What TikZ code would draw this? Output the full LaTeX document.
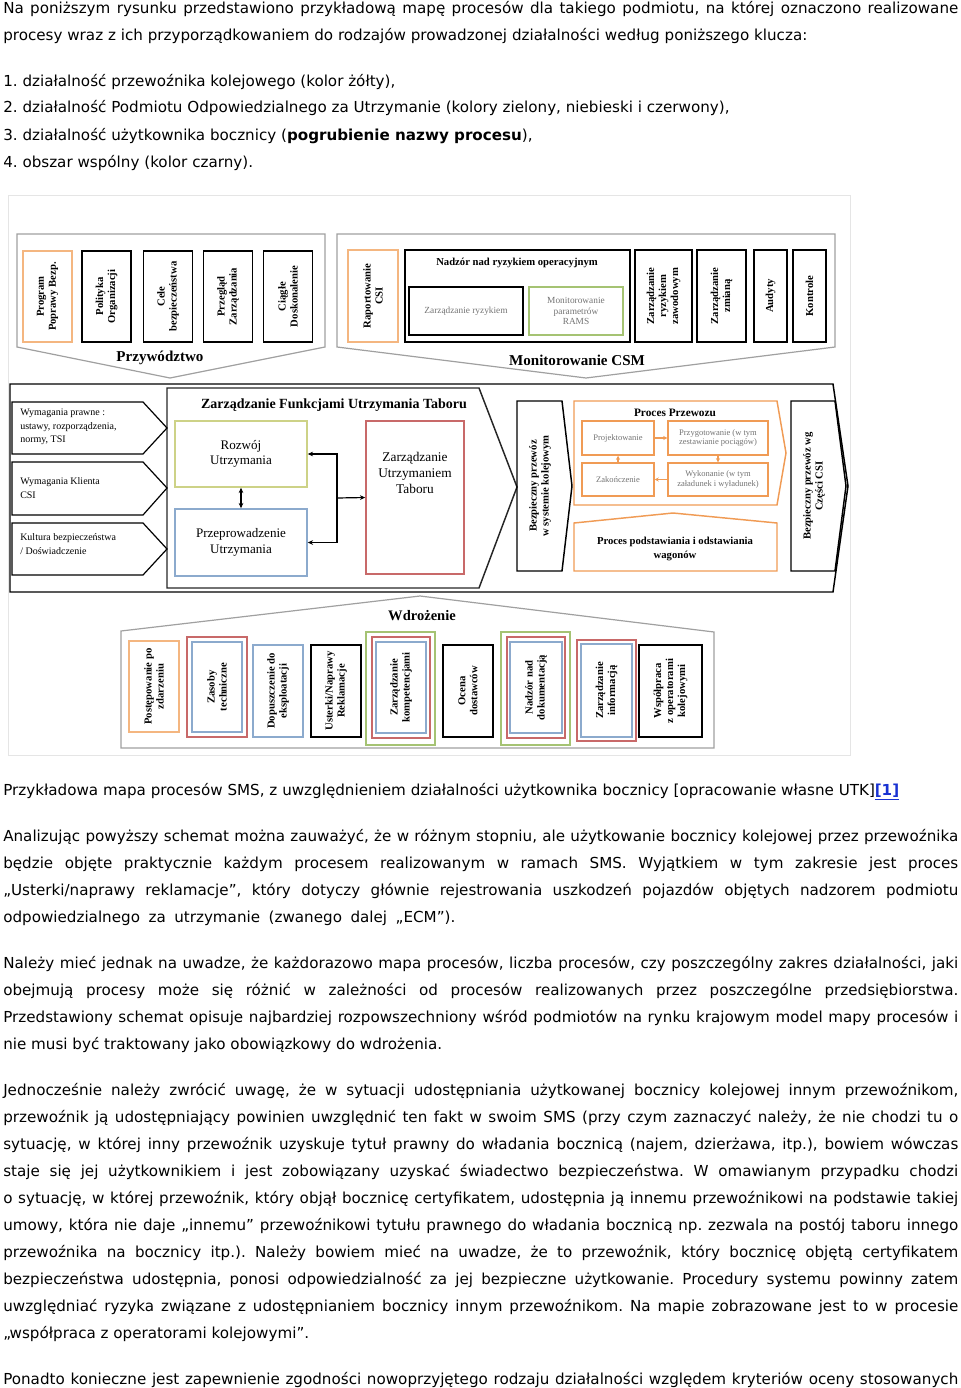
\documentclass[tikz,border=0pt]{standalone}
\usepackage{fontspec}
\setmainfont{DejaVu Sans}
\newfontfamily\dia{Liberation Serif}
\usetikzlibrary{arrows.meta}
\definecolor{panelgray}{RGB}{160,160,160}
\definecolor{orangeA}{RGB}{244,182,128}
\definecolor{orangeB}{RGB}{240,155,85}
\definecolor{redL}{RGB}{200,105,105}
\definecolor{blueL}{RGB}{140,170,205}
\definecolor{greenL}{RGB}{165,195,115}
\definecolor{oliveL}{RGB}{205,210,135}
\definecolor{textgray}{RGB}{115,115,115}
\definecolor{linkblue}{RGB}{25,50,210}
\frenchspacing
\newcommand\jline[1]{\hbox to \hsize{#1}}
\newcommand\fline[1]{\hbox{#1}}
\newcommand\paraset{\hsize=716.25pt\baselineskip=20.25pt\lineskiplimit=-\maxdimen}
\begin{document}
\begin{tikzpicture}[x=0.75pt,y=-0.75pt,
  para/.style={anchor=base west,inner sep=0pt,font=\fontsize{11.36pt}{20.25pt}\selectfont},
  panel/.style={draw=panelgray,line width=0.9pt},
  hb/.style 2 args={draw,line width=1.1pt,minimum width=#1*0.75pt,minimum height=#2*0.75pt,inner sep=0pt,align=center},
  rb/.style 2 args={draw,line width=1.1pt,rotate=90,minimum width=#2*0.75pt,minimum height=#1*0.75pt,inner sep=0pt,align=center,font=\dia\fontsize{8pt}{9pt}\selectfont\bfseries},
  ttl/.style={inner sep=0pt,font=\dia\fontsize{11.3pt}{13pt}\selectfont\bfseries},
  lbl/.style={inner sep=0pt,align=center,font=\dia\fontsize{9.8pt}{11.5pt}\selectfont},
  req/.style={anchor=west,inner sep=0pt,align=left,font=\dia\fontsize{7.5pt}{10pt}\selectfont},
  small/.style={text=textgray,font=\dia\fontsize{6.4pt}{7pt}\selectfont},
  arr/.style={-{Stealth[length=4pt,width=3.5pt]},line width=0.9pt},
  darr/.style={{Stealth[length=4pt,width=3.5pt]}-{Stealth[length=4pt,width=3.5pt]},line width=0.9pt},
  oarr/.style={-{Stealth[length=3pt,width=3pt]},draw=orangeB,line width=1pt},
]
\useasboundingbox (0,0) rectangle (960,1388);

% text above the map
\node[para] (intro) at (3,14) {\vtop{\paraset
  \jline{Na poniższym rysunku przedstawiono przykładową mapę procesów dla takiego podmiotu, na której oznaczono realizowane}
  \fline{procesy wraz z ich przyporządkowaniem do rodzajów prowadzonej działalności według poniższego klucza:}}};
\node[para] (key) at (3,86) {\vtop{\paraset
  \fline{1. działalność przewoźnika kolejowego (kolor żółty),}
  \fline{2. działalność Podmiotu Odpowiedzialnego za Utrzymanie (kolory zielony, niebieski i czerwony),}
  \fline{3. działalność użytkownika bocznicy (\textbf{pogrubienie nazwy procesu}),}
  \fline{4. obszar wspólny (kolor czarny).}}};

% frame of the map
\draw[gray!20] (8,195) rectangle (850,755);

% Przywodztwo
\draw[panel] (17,234) -- (325,234) -- (325,347) -- (170,378) -- (17,347) -- cycle;
\node[ttl] (przyw) at (160,358) {Przywództwo};
\node[rb={49}{91},draw=orangeA] (program) at (47.5,296.5) {Program\\Poprawy Bezp.};
\node[rb={49}{91}] (polityka) at (106.5,296.5) {Polityka\\Organizacji};
\node[rb={49}{91}] (cele) at (168,296.5) {Cele\\bezpieczeństwa};
\node[rb={49}{91}] (przeglad) at (228,296.5) {Przegląd\\Zarządzania};
\node[rb={49}{91}] (ciagle) at (288,296.5) {Ciągłe\\Doskonalenie};

% Monitorowanie CSM
\draw[panel] (337,234) -- (835,234) -- (835,347) -- (586,378) -- (337,347) -- cycle;
\node[ttl] (monit) at (577,360) {Monitorowanie CSM};
\node[rb={50}{92},draw=orangeA] (raport) at (373,296) {Raportowanie\\CSI};
\node[hb={225}{92}] (nadzor) at (517.5,296) {};
\node[inner sep=0pt,font=\dia\fontsize{8pt}{9pt}\selectfont\bfseries] (nadzorT) at (517,263) {Nadzór nad ryzykiem operacyjnym};
\node[hb={114}{48},small,font=\dia\fontsize{7pt}{8pt}\selectfont] (zrisk) at (466,311) {Zarządzanie ryzykiem};
\node[hb={94}{48},small,font=\dia\fontsize{7pt}{8pt}\selectfont,draw=greenL] (rams) at (576,311) {Monitorowanie\\parametrów\\RAMS};
\node[rb={57}{92}] (zawod) at (663.5,296) {Zarządzanie\\ryzykiem\\zawodowym};
\node[rb={49}{92}] (zmiana) at (721.5,296) {Zarządzanie\\zmianą};
\node[rb={33}{92}] (audyty) at (770.5,296) {Audyty};
\node[rb={33}{92}] (kontrole) at (809.5,296) {Kontrole};

% srodkowy pas
\draw[line width=1.1pt] (10,384) -- (833,384) -- (848,486) -- (833,592) -- (10,592) -- cycle;
\draw[line width=1.1pt,black!85] (167,388) -- (479,388) -- (517,487) -- (479,588) -- (167,588) -- cycle;
\node[inner sep=0pt,font=\dia\fontsize{10.5pt}{12pt}\selectfont\bfseries] (zfTitle) at (334,405) {Zarządzanie Funkcjami Utrzymania Taboru};
\draw[line width=0.9pt] (12,402) -- (143,402) -- (167,428) -- (143,454) -- (12,454) -- cycle;
\draw[line width=0.9pt] (12,462) -- (143,462) -- (167,488) -- (143,515) -- (12,515) -- cycle;
\draw[line width=0.9pt] (12,523) -- (143,523) -- (167,549) -- (143,575) -- (12,575) -- cycle;
\node[req] (req1) at (20,427) {Wymagania prawne :\\ustawy, rozporządzenia,\\normy, TSI};
\node[req] (req2) at (20,488) {Wymagania Klienta\\CSI};
\node[req] (req3) at (20,544) {Kultura bezpieczeństwa\\/ Doświadczenie};
\node[hb={132}{66},draw=oliveL,lbl] (rozwoj) at (241,454) {Rozwój\\Utrzymania};
\node[hb={132}{67},draw=blueL,lbl] (przep) at (241,542.5) {Przeprowadzenie\\Utrzymania};
\node[hb={98}{153},draw=redL] (zut) at (415,497.5) {};
\node[lbl,font=\dia\fontsize{10pt}{12pt}\selectfont] (zutT) at (415,473) {Zarządzanie\\Utrzymaniem\\Taboru};
\coordinate (fork) at (337,498);
\draw[darr] (rozwoj.south) -- (przep.north);
\draw[darr] (rozwoj.east) -| (fork) |- (przep.east);
\draw[arr] (fork) -- (zut.west);
\draw[line width=1.1pt] (517,401) -- (562,401) -- (572,486) -- (562,571) -- (517,571) -- cycle;
\node[rotate=90,align=center,inner sep=0pt,font=\dia\fontsize{8pt}{9pt}\selectfont\bfseries] (bezp) at (540,486) {Bezpieczny przewóz\\w systemie kolejowym};

% Proces Przewozu
\draw[orangeB,line width=1.1pt] (574,401) -- (777,401) -- (786,453) -- (777,505) -- (574,505) -- cycle;
\node[inner sep=0pt,font=\dia\fontsize{8.5pt}{10pt}\selectfont\bfseries] (ppT) at (675,413) {Proces Przewozu};
\node[hb={72}{34},draw=orangeB,small] (proj) at (618,438) {Projektowanie};
\node[hb={100}{34},draw=orangeB,small] (przyg) at (718,438) {Przygotowanie (w tym\\zestawianie pociągów)};
\node[hb={72}{33},draw=orangeB,small] (zak) at (618,479.5) {Zakończenie};
\node[hb={100}{33},draw=orangeB,small] (wyk) at (718,479.5) {Wykonanie (w tym\\załadunek i wyładunek)};
\draw[oarr] (proj) -- (przyg);
\draw[oarr] (przyg) -- (wyk);
\draw[oarr] (wyk) -- (zak);
\draw[oarr] (zak) -- (proj);
\draw[orangeB,line width=1.1pt] (574,571) -- (574,523) -- (673,513) -- (777,523) -- (777,571) -- cycle;
\node[align=center,inner sep=0pt,font=\dia\fontsize{8pt}{10pt}\selectfont\bfseries] (podst) at (675,549) {Proces podstawiania i odstawiania\\wagonów};
\draw[line width=1.1pt] (791,401) -- (835,401) -- (846,486) -- (835,571) -- (791,571) -- cycle;
\node[rotate=90,align=center,inner sep=0pt,font=\dia\fontsize{8pt}{9pt}\selectfont\bfseries] (csi) at (814,486) {Bezpieczny przewóz wg\\Części CSI};

% Wdrozenie
\draw[panel] (121,631) -- (420,596) -- (714,632) -- (714,748) -- (121,748) -- cycle;
\node[ttl,font=\dia\fontsize{10.9pt}{13pt}\selectfont\bfseries] (wdroz) at (422,616) {Wdrożenie};
\node[rb={50}{91},draw=orangeA] (post) at (154,686.5) {Postępowanie po\\zdarzeniu};
\node[rb={60}{100},draw=redL] (zasobyR) at (217,687) {};
\node[rb={50}{90},draw=blueL] (zasoby) at (217,687) {Zasoby\\techniczne};
\node[rb={50}{92},draw=blueL] (dopusz) at (278,691) {Dopuszczenie do\\eksploatacji};
\node[rb={50}{92}] (usterki) at (336,691) {Usterki/Naprawy\\Reklamacje};
\node[rb={69}{113},draw=greenL] (kompG) at (400.5,688.5) {};
\node[rb={58}{101},draw=redL] (kompR) at (401,687.5) {};
\node[rb={50}{91},draw=blueL] (kompet) at (401,687.5) {Zarządzanie\\kompetencjami};
\node[rb={50}{92}] (ocena) at (468,691) {Ocena\\dostawców};
\node[rb={69}{113},draw=greenL] (dokG) at (535.5,688.5) {};
\node[rb={58}{101},draw=redL] (dokR) at (536,687.5) {};
\node[rb={52}{91},draw=blueL] (dok) at (536,687.5) {Nadzór nad\\dokumentacją};
\node[rb={59}{101},draw=redL] (infoR) at (606.5,690.5) {};
\node[rb={51}{93},draw=blueL] (info) at (606.5,690.5) {Zarządzanie\\informacją};
\node[rb={63}{92}] (wspol) at (670.5,691) {Współpraca\\z operatorami\\kolejowymi};

% text below the map
\node[para] (caption) at (3,795) {\fline{Przykładowa mapa procesów SMS, z uwzględnieniem działalności użytkownika bocznicy [opracowanie własne UTK]\textcolor{linkblue}{\bfseries\underline{[1]}}}};
\node[para] (akap1) at (3,841) {\vtop{\paraset
  \jline{Analizując powyższy schemat można zauważyć, że w różnym stopniu, ale użytkowanie bocznicy kolejowej przez przewoźnika}
  \jline{będzie objęte praktycznie każdym procesem realizowanym w ramach SMS. Wyjątkiem w tym zakresie jest proces}
  \jline{„Usterki/naprawy reklamacje”, który dotyczy głównie rejestrowania uszkodzeń pojazdów objętych nadzorem podmiotu}
  \hbox to 339pt{odpowiedzialnego za utrzymanie (zwanego dalej „ECM”).}}};
\node[para] (akap2) at (3,968) {\vtop{\paraset
  \jline{Należy mieć jednak na uwadze, że każdorazowo mapa procesów, liczba procesów, czy poszczególny zakres działalności, jaki}
  \jline{obejmują procesy może się różnić w zależności od procesów realizowanych przez poszczególne przedsiębiorstwa.}
  \jline{Przedstawiony schemat opisuje najbardziej rozpowszechniony wśród podmiotów na rynku krajowym model mapy procesów i}
  \fline{nie musi być traktowany jako obowiązkowy do wdrożenia.}}};
\node[para] (akap3) at (3,1095) {\vtop{\paraset
  \jline{Jednocześnie należy zwrócić uwagę, że w sytuacji udostępniania użytkowanej bocznicy kolejowej innym przewoźnikom,}
  \jline{przewoźnik ją udostępniający powinien uwzględnić ten fakt w swoim SMS (przy czym zaznaczyć należy, że nie chodzi tu o}
  \jline{sytuację, w której inny przewoźnik uzyskuje tytuł prawny do władania bocznicą (najem, dzierżawa, itp.), bowiem wówczas}
  \jline{staje się jej użytkownikiem i jest zobowiązany uzyskać świadectwo bezpieczeństwa. W omawianym przypadku chodzi}
  \jline{o sytuację, w której przewoźnik, który objął bocznicę certyfikatem, udostępnia ją innemu przewoźnikowi na podstawie takiej}
  \jline{umowy, która nie daje „innemu” przewoźnikowi tytułu prawnego do władania bocznicą np. zezwala na postój taboru innego}
  \jline{przewoźnika na bocznicy itp.). Należy bowiem mieć na uwadze, że to przewoźnik, który bocznicę objętą certyfikatem}
  \jline{bezpieczeństwa udostępnia, ponosi odpowiedzialność za jej bezpieczne użytkowanie. Procedury systemu powinny zatem}
  \jline{uwzględniać ryzyka związane z udostępnianiem bocznicy innym przewoźnikom. Na mapie zobrazowane jest to w procesie}
  \fline{„współpraca z operatorami kolejowymi”.}}};
\node[para] (akap4) at (3,1384) {\vtop{\paraset
  \jline{Ponadto konieczne jest zapewnienie zgodności nowoprzyjętego rodzaju działalności względem kryteriów oceny stosowanych}}};
\end{tikzpicture}
\end{document}
